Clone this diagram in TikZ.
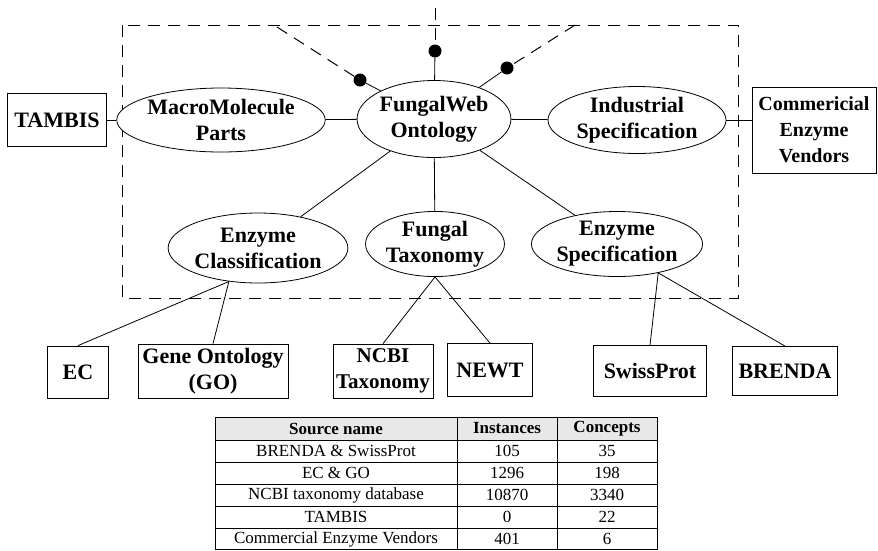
\documentclass[tikz,border=0pt]{standalone}
\usepackage{fontspec}
\setmainfont{Liberation Serif}
\usetikzlibrary{shapes.geometric}

\begin{document}
\begin{tikzpicture}[x=1pt, y=-1pt,
    onto/.style={draw, ellipse, inner sep=0pt, align=center, fill=white, line width=0.8pt, font=\fontsize{22}{26}\selectfont\bfseries},
    src/.style={draw, rectangle, inner sep=1pt, align=center, fill=white, line width=0.8pt, font=\fontsize{22}{26}\selectfont\bfseries},
    dot/.style={circle, fill=black, inner sep=0pt, minimum size=13pt},
    link/.style={line width=0.8pt},
    ext/.style={line width=1pt, dash pattern=on 12pt off 8pt},
    cell/.style={inner sep=0pt, font=\fontsize{17}{19}\selectfont}]
  \useasboundingbox (0,0) rectangle (878,550);
  % ontology boundary
  \draw[ext] (122,25) rectangle (738,298);

  % ontology parts
  \node[onto, minimum width=128pt, minimum height=77pt] (fw) at (434,119) {FungalWeb\\Ontology};
  \node[onto, minimum width=182pt, minimum height=64pt] (mmp) at (221,120) {MacroMolecule\\Parts};
  \node[onto, minimum width=178pt, minimum height=67pt] (indspec) at (637,120) {Industrial\\Specification};
  \node[onto, minimum width=171pt, minimum height=70pt] (enzclass) at (258,248) {Enzyme\\Classification};
  \node[onto, minimum width=131pt, minimum height=62pt] (ftax) at (435,244) {Fungal\\Taxonomy};
  \node[onto, minimum width=162pt, minimum height=65pt] (enzspec) at (617,244) {Enzyme\\Specification};

  % sources
  \node[src, minimum width=99pt, minimum height=53pt] (tambis) at (57,120) {TAMBIS};
  \node[src, minimum width=124pt, minimum height=86pt, font=\fontsize{20}{26}\selectfont\bfseries] (cev) at (814,130) {Commericial\\Enzyme\\Vendors};
  \node[src, minimum width=61pt, minimum height=52pt] (ec) at (78,372) {EC};
  \node[src, minimum width=150pt, minimum height=54pt] (go) at (213,371) {Gene Ontology\\(GO)};
  \node[src, minimum width=100pt, minimum height=54pt, font=\fontsize{21}{26}\selectfont\bfseries] (ncbi) at (383,371) {NCBI\\Taxonomy};
  \node[src, minimum width=85pt, minimum height=53pt] (newt) at (490,370) {NEWT};
  \node[src, minimum width=113pt, minimum height=51pt] (swiss) at (650,371) {SwissProt};
  \node[src, minimum width=105pt, minimum height=49pt] (brenda) at (785,371) {BRENDA};

  % outside links
  \coordinate (s1) at (277,27);
  \coordinate (s2) at (435,8);
  \coordinate (s3) at (575,25);
  \node[dot] (d1) at (360,80) {};
  \node[dot] (d2) at (435,51) {};
  \node[dot] (d3) at (507,68) {};
  \draw[ext] (s1) -- (d1);
  \draw[ext] (s2) -- (d2);
  \draw[ext] (s3) -- (d3);
  \draw[link] (d1) -- (fw);
  \draw[link] (d2) -- (fw);
  \draw[link] (d3) -- (fw);

  % connectors
  \draw[link] (tambis) -- (mmp);
  \draw[link] (mmp) -- (fw);
  \draw[link] (fw) -- (indspec);
  \draw[link] (indspec.east) -- (indspec.east -| cev.west);
  \draw[link] (fw) -- (enzclass);
  \draw[link] (fw) -- (ftax);
  \draw[link] (fw) -- (enzspec);
  \draw[link] (enzclass.229) -- (ec.north);
  \draw[link] (enzclass.229) -- (go.north);
  \draw[link] (ftax.south) -- (ncbi.north);
  \draw[link] (ftax.south) -- (newt.north);
  \draw[link] (enzspec.-35) -- (swiss.north);
  \draw[link] (enzspec.-35) -- (brenda.north);

  % table of sources
  \fill[gray!18] (215,417) rectangle (657,440);
  \draw[line width=0.8pt] (215,417) rectangle (657,549.5);
  \foreach \y in {440,462,484,506,528}
    \draw[line width=0.8pt] (215,\y) -- (657,\y);
  \foreach \x in {457,557}
    \draw[line width=0.8pt] (\x,417) -- (\x,549.5);
  \node[cell, font=\fontsize{17}{19}\selectfont\bfseries] (h1) at (336,428.5) {Source name};
  \node[cell, font=\fontsize{17}{19}\selectfont\bfseries] (h2) at (507,428.5) {Instances};
  \node[cell, font=\fontsize{17}{19}\selectfont\bfseries] (h3) at (607,428.5) {Concepts};
  \foreach \name/\inst/\conc [count=\i] in {BRENDA \& SwissProt/105/35, EC \& GO/1296/198, NCBI taxonomy database/10870/3340, TAMBIS/0/22, Commercial Enzyme Vendors/401/6}
  {
    \node[cell] (n\i) at (336,429+22*\i) {\name};
    \node[cell] (i\i) at (507,429+22*\i) {\inst};
    \node[cell] (c\i) at (607,429+22*\i) {\conc};
  }
\end{tikzpicture}
\end{document}
